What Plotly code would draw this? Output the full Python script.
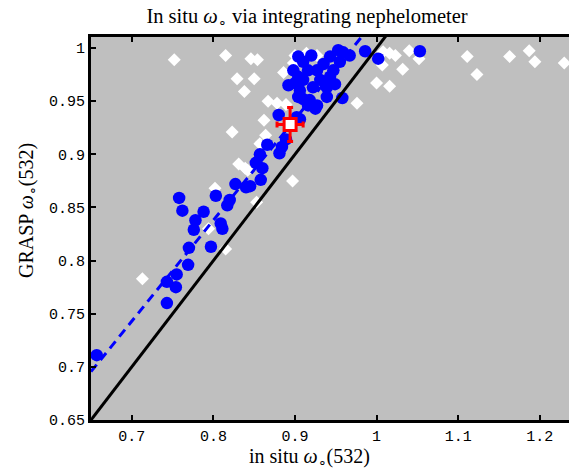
import plotly.graph_objects as go

# ---- data ----
blue_x = [0.657, 0.743, 0.743, 0.754, 0.755, 0.769, 0.770, 0.797, 0.776, 0.778,
          0.788, 0.762, 0.758, 0.809, 0.811, 0.803, 0.820, 0.817, 0.827, 0.840,
          0.845, 0.858, 0.852, 0.860, 0.857, 0.866, 0.881, 0.884, 0.889, 0.880,
          0.892, 0.900, 0.904, 0.902, 0.904, 0.910, 0.904, 0.906, 0.910, 0.927,
          0.918, 0.939, 0.958, 0.931, 0.943, 0.949, 0.927, 0.935, 0.943, 0.953,
          0.959, 0.967, 0.986, 1.002, 0.947, 0.955, 0.920, 0.916, 0.910, 0.922,
          0.939, 0.916, 0.925, 1.053, 0.898, 0.906]
blue_y = [0.711, 0.760, 0.780, 0.775, 0.787, 0.796, 0.812, 0.813, 0.829, 0.838,
          0.846, 0.847, 0.859, 0.835, 0.830, 0.861, 0.857, 0.852, 0.872, 0.869,
          0.870, 0.876, 0.892, 0.887, 0.900, 0.909, 0.901, 0.907, 0.914, 0.937,
          0.965, 0.967, 0.954, 0.935, 0.992, 0.987, 0.973, 0.960, 0.952, 0.946,
          0.951, 0.954, 0.953, 0.970, 0.973, 0.966, 0.979, 0.985, 0.992, 0.998,
          0.996, 0.993, 0.997, 0.990, 0.979, 0.987, 0.993, 0.979, 0.970, 0.963,
          0.963, 0.946, 0.943, 0.997, 0.979, 0.933]

white_x = [0.752, 0.815, 0.846, 0.854, 0.886, 0.829, 0.850, 0.838, 0.867, 0.878,
           0.862, 0.823, 0.831, 0.839, 0.900, 0.914, 0.927, 0.898, 1.008, 1.016,
           1.023, 1.040, 1.052, 1.007, 1.032, 1.000, 1.016, 0.976, 1.111, 1.123,
           1.163, 1.187, 1.194, 1.230, 0.889, 0.864, 0.857, 0.897, 0.802, 0.713,
           0.794, 0.815, 0.853, 0.842]
white_y = [0.989, 0.993, 0.990, 0.989, 0.977, 0.971, 0.971, 0.959, 0.950, 0.948,
           0.932, 0.921, 0.891, 0.887, 0.993, 0.995, 0.993, 0.986, 0.9965, 0.995,
           0.993, 0.9975, 0.990, 0.984, 0.980, 0.967, 0.964, 0.948, 0.992, 0.975,
           0.992, 0.9975, 0.987, 0.986, 0.947, 0.918, 0.910, 0.875, 0.868, 0.783,
           0.830, 0.811, 0.855, 0.885]

mean_x = [0.894]
mean_y = [0.928]
mean_err_x = [0.016]
mean_err_y = [0.016]

fit_slope = 0.95
fit_intercept = 0.078

x_range = [0.65, 1.2358]
y_range = [0.65, 1.0104]

x_ticks = [0.7, 0.8, 0.9, 1.0, 1.1, 1.2]
x_tick_text = ["0.7", "0.8", "0.9", "1", "1.1", "1.2"]
y_ticks = [0.65, 0.7, 0.75, 0.8, 0.85, 0.9, 0.95, 1.0]
y_tick_text = ["0.65", "0.7", "0.75", "0.8", "0.85", "0.9", "0.95", "1"]

# ---- figure ----
fig = go.Figure()

fig.add_trace(go.Scatter(
    x=white_x, y=white_y, mode="markers",
    marker=dict(symbol="diamond", size=10, color="white", line=dict(width=0)),
    showlegend=False, hoverinfo="skip"))

fig.add_trace(go.Scatter(
    x=blue_x, y=blue_y, mode="markers",
    marker=dict(symbol="circle", size=12.5, color="#0000FF", line=dict(width=0)),
    showlegend=False, hoverinfo="skip"))

fit_xs = [x_range[0], x_range[1]]
fig.add_trace(go.Scatter(
    x=fit_xs, y=[fit_slope * v + fit_intercept for v in fit_xs], mode="lines",
    line=dict(color="#0000FF", width=3, dash="9px,6px"),
    showlegend=False, hoverinfo="skip"))

fig.add_trace(go.Scatter(
    x=[x_range[0], x_range[1]], y=[x_range[0], x_range[1]], mode="lines",
    line=dict(color="black", width=3),
    showlegend=False, hoverinfo="skip"))

fig.add_trace(go.Scatter(
    x=mean_x, y=mean_y, mode="markers",
    marker=dict(symbol="square", size=12, color="white",
                line=dict(color="#FF0000", width=3)),
    error_x=dict(type="data", array=mean_err_x, color="#FF0000", thickness=3, width=3),
    error_y=dict(type="data", array=mean_err_y, color="#FF0000", thickness=3, width=3),
    showlegend=False, hoverinfo="skip"))

tick_font = dict(family="Liberation Mono", size=15, color="black")

fig.update_layout(
    width=569, height=473,
    margin=dict(l=91, r=0, t=37, b=53),
    paper_bgcolor="white", plot_bgcolor="#BFBFBF",
    title=dict(text="In situ <i>ω</i><sub>∘</sub> via integrating nephelometer",
               x=307 / 569, y=1 - 16 / 473, xanchor="center", yanchor="middle",
               font=dict(family="Liberation Serif", size=20.5, color="black")),
    xaxis=dict(range=x_range, tickvals=x_ticks, ticktext=x_tick_text,
               ticks="inside", ticklen=5, tickwidth=2, tickcolor="black",
               showline=True, linewidth=3, linecolor="black", mirror="ticks",
               showgrid=False, zeroline=False, tickfont=tick_font),
    yaxis=dict(range=y_range, tickvals=y_ticks, ticktext=y_tick_text,
               ticks="inside", ticklen=5, tickwidth=2, tickcolor="black",
               showline=True, linewidth=3, linecolor="black", mirror=False,
               showgrid=False, zeroline=False, tickfont=tick_font),
    annotations=[
        dict(text="in situ <i>ω</i><sub>∘</sub>(532)", xref="paper", yref="paper",
             x=(309 - 91) / 478, y=(420 - 457) / 383, xanchor="center", yanchor="middle",
             showarrow=False, font=dict(family="Liberation Serif", size=20, color="black")),
        dict(text="GRASP <i>ω</i><sub>∘</sub>(532)", xref="paper", yref="paper",
             x=(27 - 91) / 478, y=(420 - 211) / 383, xanchor="center", yanchor="middle",
             textangle=-90, showarrow=False,
             font=dict(family="Liberation Serif", size=20, color="black")),
    ],
)

fig.write_html("out.html",
               config={"displayModeBar": False},
               default_width="569px", default_height="473px",
               post_script="document.body.style.margin='0px';document.body.style.overflow='hidden';")
